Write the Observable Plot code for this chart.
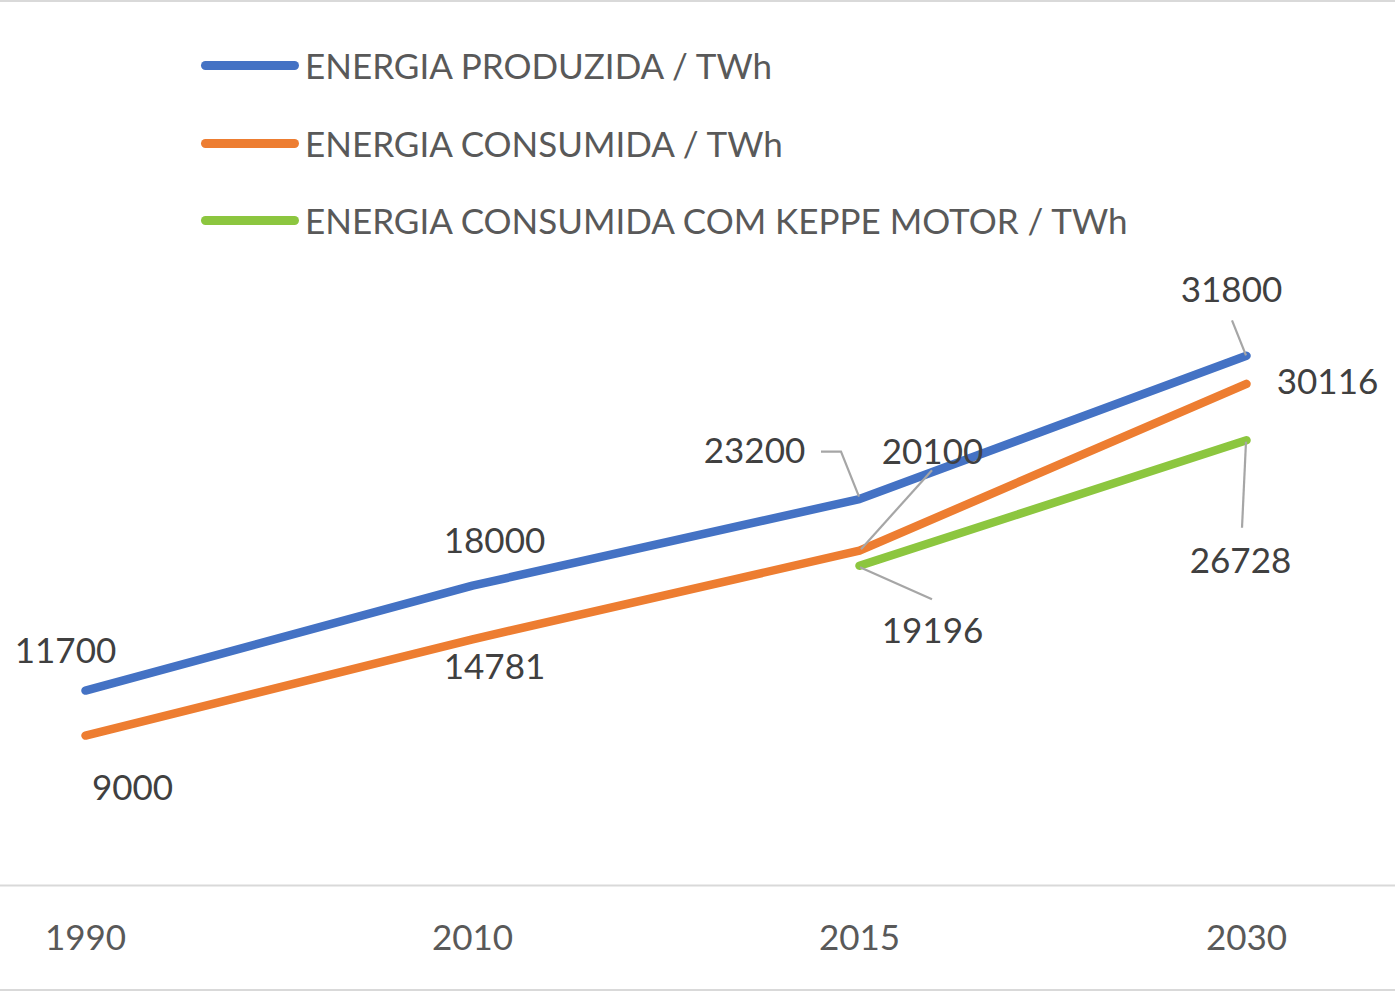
<!DOCTYPE html>
<html>
<head>
<meta charset="utf-8">
<script src="https://cdn.jsdelivr.net/npm/d3@7"></script>
<script src="https://cdn.jsdelivr.net/npm/@observablehq/plot@0.6"></script>
<style>
  html, body { margin: 0; padding: 0; background: #fff; }
  #wrap { width: 1395px; border-top: 2px solid #d9d9d9; border-bottom: 2px solid #d9d9d9; font-family: Lato, "Open Sans", sans-serif; }
  #legend { position: relative; height: 258px; }
  .row { position: absolute; left: 0; height: 40px; }
  .swatch { position: absolute; left: 201px; top: 16px; width: 98px; height: 8.5px; border-radius: 4.5px; }
  .lab { position: absolute; left: 305px; top: 0; line-height: 40px; font-size: 35px; color: #595959; white-space: nowrap; }
  svg { display: block; }
</style>
</head>
<body>
<div id="wrap">
  <div id="legend"></div>
  <div id="chart"></div>
</div>
<script>
// ---- data ----
const years = ["1990", "2010", "2015", "2030"];
const produzida = [11700, 18000, 23200, 31800];
const consumida = [9000, 14781, 20100, 30116];
const keppe = [null, null, 19196, 26728];
const seriesNames = [
  "ENERGIA PRODUZIDA / TWh",
  "ENERGIA CONSUMIDA / TWh",
  "ENERGIA CONSUMIDA COM KEPPE MOTOR / TWh"
];
const seriesColors = ["#4472C4", "#ED7D31", "#8CC63F"];

// ---- label layout (pixel offsets from each point) ----
const labelLayout = [
  {s: 0, i: 0, dx: -20, dy: -39},
  {s: 1, i: 0, dx: 47, dy: 53},
  {s: 0, i: 1, dx: 22, dy: -44},
  {s: 1, i: 1, dx: 22, dy: 29},
  {s: 0, i: 2, dx: -105, dy: -47, leader: [[0, -2], [-18, -47], [-38, -47]]},
  {s: 1, i: 2, dx: 73, dy: -98, leader: [[2, -1], [73, -80]]},
  {s: 2, i: 2, dx: 73, dy: 66, leader: [[1, 2], [73, 34]]},
  {s: 0, i: 3, dx: -15, dy: -65, leader: [[0, 0], [-14, -35]]},
  {s: 1, i: 3, dx: 81, dy: -1},
  {s: 2, i: 3, dx: -6, dy: 122, leader: [[0, 2], [-4, 88]]}
];

const allSeries = [produzida, consumida, keppe];
const tidy = [];
allSeries.forEach((vals, s) => vals.forEach((v, i) => {
  if (v != null) tidy.push({year: years[i], value: v, series: seriesNames[s]});
}));

// ---- legend ----
const legend = document.getElementById("legend");
const rowTops = [43, 121, 198];
seriesNames.forEach((name, k) => {
  const row = document.createElement("div");
  row.className = "row";
  row.style.top = rowTops[k] + "px";
  row.innerHTML = `<div class="swatch" style="background:${seriesColors[k]}"></div><div class="lab">${name}</div>`;
  legend.appendChild(row);
});

// ---- chart ----
const labelMarks = labelLayout.map(L => Plot.text(
  [{year: years[L.i], value: allSeries[L.s][L.i]}],
  {x: "year", y: "value", text: d => String(d.value), dx: L.dx, dy: L.dy,
   fill: "#404040", fontSize: 35, fontFamily: "Lato", textAnchor: "middle"}
));

const fig = Plot.plot({
  width: 1395,
  height: 729,
  marginTop: 42,
  marginBottom: 104,
  marginLeft: 0,
  marginRight: 0,
  style: {fontFamily: "Lato", color: "#595959", background: "transparent"},
  x: {type: "point", domain: years, range: [85, 1246], padding: 0, label: null},
  y: {type: "linear", domain: [0, 35000], range: [625, 42], axis: null},
  color: {domain: seriesNames, range: seriesColors},
  marks: [
    Plot.ruleY([0], {stroke: "#d9d9d9", strokeWidth: 2}),
    Plot.axisX({tickSize: 0, tickPadding: 40, fontSize: 35, fill: "#595959", label: null}),
    Plot.line(tidy, {x: "year", y: "value", z: "series", stroke: "series",
      strokeWidth: 8.5, strokeLinecap: "round", strokeLinejoin: "round"}),
    ...labelMarks
  ]
});

document.getElementById("chart").appendChild(fig);

// leader lines through the plot's own scales
const sx = fig.scale("x"), sy = fig.scale("y");
const svg = d3.select(fig);
const g = svg.append("g").attr("fill", "none").attr("stroke", "#a6a6a6").attr("stroke-width", 2.2);
labelLayout.filter(L => L.leader).forEach(L => {
  const px = sx.apply(years[L.i]);
  const py = sy.apply(allSeries[L.s][L.i]);
  g.append("path").attr("d", d3.line()(L.leader.map(([ox, oy]) => [px + ox, py + oy])));
});
</script>
</body>
</html>
